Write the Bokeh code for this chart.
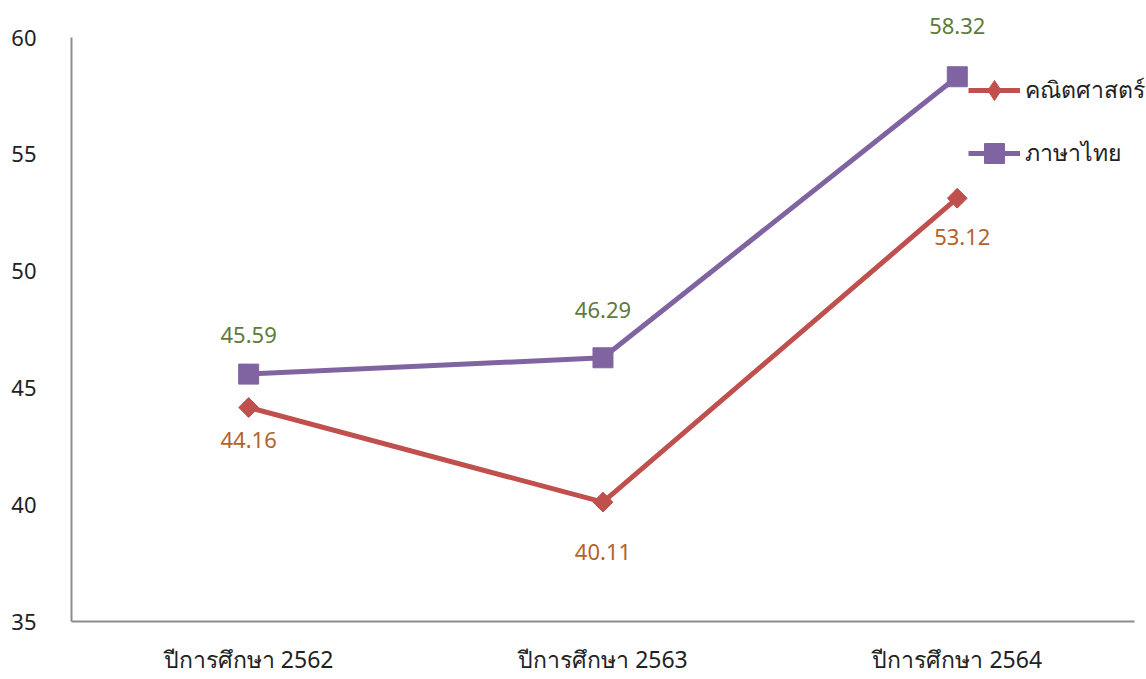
import math
from bokeh.plotting import figure
from bokeh.models import ColumnDataSource, Legend, LegendItem, LabelSet, Range1d, FixedTicker
from bokeh.core.properties import value
from bokeh.embed import file_html
from bokeh.resources import INLINE

categories = ["ปีการศึกษา 2562", "ปีการศึกษา 2563", "ปีการศึกษา 2564"]
math_values = [44.16, 40.11, 53.12]
thai_values = [45.59, 46.29, 58.32]
math_name = "คณิตศาสตร์"
thai_name = "ภาษาไทย"
y_ticks = [35, 40, 45, 50, 55, 60]

# label placement (styling only, screen px)
math_lbl_dy = [-32, -50, -39]
math_lbl_dx = [0, 0, 5]
thai_lbl_dy = [39, 48, 51]

FONT = "Noto Sans"
xpos = [i + 0.5 for i in range(len(categories))]
src = ColumnDataSource(dict(
    x=xpos,
    math=math_values,
    thai=thai_values,
    math_lbl=[f"{v:.2f}" for v in math_values],
    thai_lbl=[f"{v:.2f}" for v in thai_values],
    math_dy=math_lbl_dy,
    math_dx=math_lbl_dx,
    thai_dy=thai_lbl_dy,
))

p = figure(x_range=Range1d(0, 3.034), y_range=Range1d(35, 61.584), width=1146, height=679,
           output_backend="svg", toolbar_location=None,
           min_border_left=71, min_border_right=0, min_border_top=0, min_border_bottom=58)
p.outline_line_color = None
p.grid.visible = False
p.background_fill_color = "white"

RED = "#C0504D"
PURPLE = "#8064A2"
mr = p.line("x", "math", source=src, line_color=RED, line_width=5)
md = p.scatter("x", "math", source=src, marker="diamond", size=19,
               fill_color=RED, line_color=RED)
p.scatter("x", "math", source=src, marker="square", angle=math.pi / 4, size=14,
          fill_color=RED, line_color=RED)
tr = p.line("x", "thai", source=src, line_color=PURPLE, line_width=5)
ts = p.scatter("x", "thai", source=src, marker="square", size=20,
               fill_color=PURPLE, line_color=PURPLE)

p.add_layout(LabelSet(x="x", y="math", text="math_lbl", source=src, y_offset="math_dy",
                      x_offset="math_dx",
                      text_align="center", text_baseline="middle", text_color="#B5622A",
                      text_font=value(FONT), text_font_size="22px"))
p.add_layout(LabelSet(x="x", y="thai", text="thai_lbl", source=src, y_offset="thai_dy",
                      text_align="center", text_baseline="middle", text_color="#5F7A3B",
                      text_font=value(FONT), text_font_size="22px"))

p.yaxis.ticker = FixedTicker(ticks=y_ticks)
p.yaxis.bounds = (35, 60)
p.xaxis.ticker = FixedTicker(ticks=xpos)
p.xaxis.major_label_overrides = {x: c for x, c in zip(xpos, categories)}
p.xaxis.bounds = (0, 3)
for ax in (p.xaxis, p.yaxis):
    ax.axis_line_color = "#8C8C8C"
    ax.axis_line_width = 2
    ax.major_tick_line_color = None
    ax.minor_tick_line_color = None
    ax.major_label_text_font = FONT
    ax.major_label_text_font_size = "22px"
    ax.major_label_text_color = "#222222"
p.xaxis.major_label_text_font_size = "23px"
p.yaxis.major_label_standoff = 29
p.xaxis.major_label_standoff = 15
p.xaxis.major_label_text_line_height = 1.0

legend = Legend(items=[LegendItem(label=math_name, renderers=[mr, md]),
                       LegendItem(label=thai_name, renderers=[tr, ts])],
                location=(897, 443), orientation="vertical")
legend.background_fill_alpha = 0
legend.border_line_color = None
legend.padding = 0
legend.margin = 0
legend.glyph_width = 52
legend.glyph_height = 50
legend.spacing = 13
legend.label_standoff = 5
legend.label_text_font = FONT
legend.label_text_font_size = "23px"
legend.label_text_color = "#222222"
p.add_layout(legend, "center")

open("out.html", "w").write(file_html(p, INLINE))
